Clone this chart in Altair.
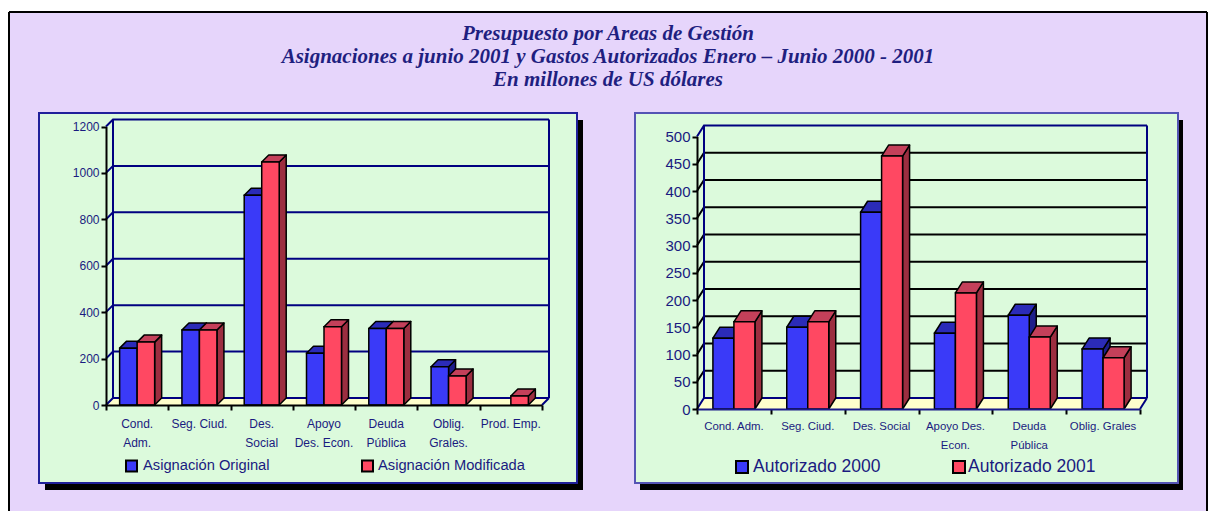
import altair as alt
import pandas as pd

# ---------------- data ----------------
title_lines = [
    "Presupuesto  por Areas de Gestión",
    "Asignaciones a junio 2001 y Gastos Autorizados Enero – Junio 2000 - 2001",
    "En millones de US dólares",
]

left_categories = ["Cond.\nAdm.", "Seg. Ciud.", "Des.\nSocial", "Apoyo\nDes. Econ.",
                   "Deuda\nPública", "Oblig.\nGrales.", "Prod. Emp."]
asignacion_original = [245, 323, 904, 223, 330, 165, None]
asignacion_modificada = [271, 323, 1047, 337, 330, 125, 39]
left_series = ["Asignación Original", "Asignación Modificada"]
left_ticks = [0, 200, 400, 600, 800, 1000, 1200]

right_categories = ["Cond. Adm.", "Seg. Ciud.", "Des. Social", "Apoyo Des.\nEcon.",
                    "Deuda\nPública", "Oblig. Grales"]
autorizado_2000 = [130, 150, 361, 139, 172, 110]
autorizado_2001 = [160, 160, 464, 213, 132, 94]
right_series = ["Autorizado 2000", "Autorizado 2001"]
right_ticks = [0, 50, 100, 150, 200, 250, 300, 350, 400, 450, 500]

# ---------------- style ----------------
LAVENDER = "#E6D5FB"
GREEN = "#DCFADC"
CREAM = "#FFFFCC"
NAVY = "#000080"
LABEL = "#1A1A80"
TITLE = "#1F1F80"
FONT = "Liberation Sans"
BLUE = {"front": "#3A3AF8", "top": "#2B2BB8", "side": "#1E1E8A"}
RED = {"front": "#FF4862", "top": "#C4405A", "side": "#9C2E40"}
PW, PH = 538, 370
PW2 = 543


def one():
    return pd.DataFrame({"a": [0]})


def prect(x, x2, y, y2, **kw):
    return alt.Chart(one()).mark_rect(**kw).encode(
        x=alt.value(x), x2=alt.value(x2), y=alt.value(y), y2=alt.value(y2))


def panel(cats, s1, s2, names, ticks, cfg):
    n = len(cats)
    ymax = ticks[-1]
    xr, yr = cfg["xrange"], cfg["yrange"]
    pxx = (xr[1] - xr[0]) / n
    pxy = (yr[0] - yr[1]) / ymax
    dxu = cfg["dx"] / pxx
    dyu = cfg["dy"] / pxy
    bw = cfg["bw"] / pxx
    xs = alt.Scale(domain=[0, n], range=xr, nice=False, zero=False)
    ys = alt.Scale(domain=[0, ymax], range=yr, nice=False, zero=False)
    xaxis = alt.Axis(values=list(range(n + 1)), offset=-(PH - yr[0]), labels=False,
                     domainColor=cfg["xdomain"], domainWidth=2, tickColor="black",
                     tickWidth=2, tickSize=5, grid=False, zindex=1, title=None)
    yaxis = alt.Axis(values=ticks, offset=-xr[0], format="d", domainColor="black",
                     domainWidth=2, tickColor="black", tickWidth=2, tickSize=5,
                     labelColor=LABEL, labelFont=FONT, labelFontSize=cfg["yfs"],
                     labelPadding=2, labelOverlap=False, grid=False, zindex=1, title=None)

    def X(f):
        return alt.X(f, type="quantitative", scale=xs, axis=xaxis, stack=None)

    def Y(f):
        return alt.Y(f, type="quantitative", scale=ys, axis=yaxis, stack=None)

    layers = []
    w = cfg["pw"]
    sh = cfg["shadow"]
    layers.append(prect(sh[0], w + sh[0], sh[1], PH + sh[1], fill="black"))
    layers.append(prect(0, w, 0, PH, fill=GREEN, stroke=cfg["border"], strokeWidth=2))

    # floor
    floor = pd.DataFrame({"y": [0, dyu], "xl": [0, dxu], "xr": [n, n + dxu]})
    layers.append(alt.Chart(floor).mark_area(orient="horizontal", fill=CREAM).encode(
        y=Y("y"), x=X("xl"), x2="xr:Q"))

    # gridlines on side and back wall
    g = []
    for t in ticks:
        g += [dict(g=t, k=0, x=0, y=t), dict(g=t, k=1, x=dxu, y=t + dyu),
              dict(g=t, k=2, x=n + dxu, y=t + dyu)]
    gdf = pd.DataFrame(g)
    inner = gdf[(gdf.g != ymax) & (gdf.g != 0)]
    outer = gdf[(gdf.g == ymax) | (gdf.g == 0)]
    layers.append(alt.Chart(inner).mark_line(color=cfg["grid"], strokeWidth=2).encode(
        x=X("x"), y=Y("y"), detail="g:N", order="k:Q"))
    layers.append(alt.Chart(outer).mark_line(color=NAVY, strokeWidth=2).encode(
        x=X("x"), y=Y("y"), detail="g:N", order="k:Q"))
    edges = pd.DataFrame([
        dict(e="L", k=0, x=dxu, y=dyu), dict(e="L", k=1, x=dxu, y=ymax + dyu),
        dict(e="R", k=0, x=n + dxu, y=dyu), dict(e="R", k=1, x=n + dxu, y=ymax + dyu),
        dict(e="F", k=0, x=n, y=0), dict(e="F", k=1, x=n + dxu, y=dyu),
    ])
    layers.append(alt.Chart(edges).mark_line(color=NAVY, strokeWidth=2).encode(
        x=X("x"), y=Y("y"), detail="e:N", order="k:Q"))

    # 3D bars
    for s, (vals, col) in enumerate([(s1, BLUE), (s2, RED)]):
        fr, sd, tp = [], [], []
        for i, v in enumerate(vals):
            if v is None:
                continue
            c = i + 0.5
            x0 = c - bw if s == 0 else c
            x1 = x0 + bw
            bid = f"{s}-{i}"
            fr.append(dict(id=bid, x0=x0, x1=x1, v=v, b=0))
            sd += [dict(id=bid, k=0, x=x1, top=v, bot=0),
                   dict(id=bid, k=1, x=x1 + dxu, top=v + dyu, bot=dyu)]
            tp += [dict(id=bid, k=0, y=v, xl=x0, xr=x1),
                   dict(id=bid, k=1, y=v + dyu, xl=x0 + dxu, xr=x1 + dxu)]
        layers.append(alt.Chart(pd.DataFrame(sd)).mark_area(
            orient="vertical", fill=col["side"], stroke="black", strokeWidth=1.5,
            strokeJoin="round").encode(x=X("x"), y=Y("top"), y2="bot:Q", detail="id:N"))
        layers.append(alt.Chart(pd.DataFrame(tp)).mark_area(
            orient="horizontal", fill=col["top"], stroke="black", strokeWidth=1.5,
            strokeJoin="round").encode(y=Y("y"), x=X("xl"), x2="xr:Q", detail="id:N"))
        layers.append(alt.Chart(pd.DataFrame(fr)).mark_rect(
            fill=col["front"], stroke="black", strokeWidth=1.5).encode(
            x=X("x0"), x2="x1:Q", y=Y("v"), y2="b:Q"))

    # category labels
    cdf = pd.DataFrame({"c": [i + 0.5 for i in range(n)], "label": cats})
    layers.append(alt.Chart(cdf).mark_text(
        lineBreak="\n", align="center", baseline="alphabetic", font=FONT,
        fontSize=cfg["xfs"], lineHeight=cfg["lh"], color=LABEL).encode(
        x=X("c"), y=alt.value(cfg["xlab_y"]), text="label:N"))

    # legend
    for (sx, tx), name, col in zip(cfg["legend_x"], names, [BLUE, RED]):
        ly, sq = cfg["legend_y"], cfg["sq"]
        layers.append(prect(sx, sx + sq, ly - sq / 2, ly + sq / 2, fill=col["front"],
                            stroke="black", strokeWidth=2))
        layers.append(alt.Chart(pd.DataFrame({"t": [name]})).mark_text(
            align="left", baseline="middle", font=FONT, fontSize=cfg["lfs"],
            color=LABEL).encode(x=alt.value(tx), y=alt.value(ly), text="t:N"))
    return layers


left_cfg = dict(xrange=[67, 503], yrange=[292, 13.5], dx=7, dy=7, bw=17.5,
                xdomain="black", grid=NAVY, border="#20209A", pw=PW, shadow=(6, 7),
                yfs=12, xfs=12, lh=19, xlab_y=315, legend_x=[(87, 104), (323, 339)],
                legend_y=353, sq=11, lfs=14.7)
right_cfg = dict(xrange=[62, 505], yrange=[296, 23.5], dx=7, dy=11, bw=21,
                 xdomain="#1A1A8A", grid="black", border="#5454B4", pw=PW2, shadow=(5, 7),
                 yfs=15, xfs=11.4, lh=18.5, xlab_y=317, legend_x=[(101, 118), (318, 333)],
                 legend_y=354, sq=12, lfs=17.5)

# page frame (drawn in the left panel's coordinates; canvas origin is at (-31, -105))
frame = [
    prect(-31, 1169, -105, 398, fill="white"),
    prect(-30, 1168, -101, 398, fill=LAVENDER),
    alt.Chart(one()).mark_rule(color="black", strokeWidth=2).encode(
        x=alt.value(-30), x2=alt.value(1168), y=alt.value(-101)),
    alt.Chart(one()).mark_rule(color="black", strokeWidth=2).encode(
        x=alt.value(-30), y=alt.value(-101), y2=alt.value(398)),
    alt.Chart(one()).mark_rule(color="black", strokeWidth=2).encode(
        x=alt.value(1168), y=alt.value(-101), y2=alt.value(398)),
    alt.Chart(pd.DataFrame({"t": title_lines, "y": [-79, -56, -33]})).mark_text(
        align="center", baseline="middle", font="Liberation Serif", fontSize=21,
        fontStyle="italic", fontWeight="bold", color=TITLE).encode(
        x=alt.value(569), y=alt.Y("y:Q", scale=None), text="t:N"),
]

left = alt.layer(*(frame + panel(left_categories, asignacion_original, asignacion_modificada,
                                 left_series, left_ticks, left_cfg))).properties(width=PW, height=PH)
right = alt.layer(*panel(right_categories, autorizado_2000, autorizado_2001,
                         right_series, right_ticks, right_cfg)).properties(width=PW2, height=PH)

chart = alt.hconcat(left, right, spacing=58, bounds="flush").properties(
    padding=0, background="white").configure_view(stroke=None)

chart.save("out.html", embed_options={"renderer": "svg", "actions": False})
